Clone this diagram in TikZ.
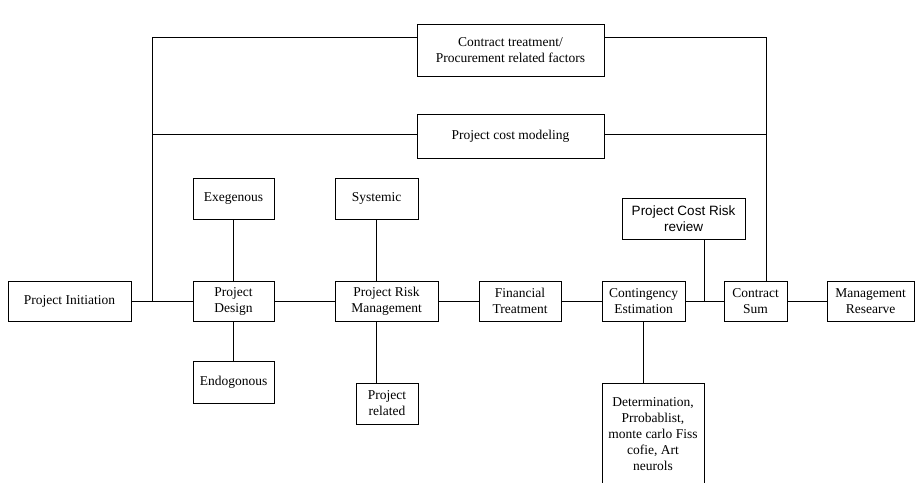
\documentclass[tikz,border=0pt]{standalone}
\usepackage{fontspec}
\setmainfont{Liberation Serif}
\newfontfamily\arialfont{Liberation Sans}
\usepackage{tikz}

\begin{document}
\begin{tikzpicture}[x=1pt,y=-1pt,line width=0.8pt,
	box/.style={draw,rectangle,inner sep=0,outer sep=0,align=center,font=\fontsize{13.5}{16}\selectfont}]
	\useasboundingbox (0,0) rectangle (920,482);
	% top boxes
	\node[box,minimum width=187,minimum height=52] (ctf) at (510.5,50) {Contract treatment/\\Procurement related factors};
	\node[box,minimum width=187,minimum height=44] (pcm) at (510.5,136) {Project cost modeling};
	% main row
	\node[box,minimum width=123,minimum height=40] (init) at (69.5,301) {Project Initiation};
	\node[box,minimum width=81,minimum height=40] (design) at (233.5,301) {Project\\Design};
	\node[box,minimum width=103,minimum height=40] (risk) at (386.5,301) {Project Risk\\Management};
	\node[box,minimum width=82,minimum height=40] (fin) at (520,301) {Financial\\Treatment};
	\node[box,minimum width=83,minimum height=40] (cont) at (643.5,301) {Contingency\\Estimation};
	\node[box,minimum width=63,minimum height=40] (sum) at (755.5,301) {Contract\\Sum};
	\node[box,minimum width=87,minimum height=40] (mgmt) at (870.5,301) {Management\\Researve};
	% side boxes
	\node[box,minimum width=81,minimum height=41] (exo) at (233.5,198.5) {Exegenous};
	\node[box,minimum width=81,minimum height=42] (endo) at (233.5,382) {Endogonous};
	\node[box,minimum width=83,minimum height=41] (sys) at (376.5,198.5) {Systemic};
	\node[box,minimum width=62,minimum height=41] (prel) at (387,403.5) {Project\\related};
	\node[box,minimum width=123,minimum height=41,font=\arialfont\fontsize{13.5}{16}\selectfont] (review) at (683.5,218.5) {Project Cost Risk\\review};
	\node[box,minimum width=102,minimum height=102] (det) at (653,434) {Determination,\\Prrobablist,\\monte carlo Fiss\\cofie, Art\\neurols};
	% junctions
	\coordinate (jl) at (152,301);
	\coordinate (jr) at (704,301);
	\coordinate (tl) at (152,37);
	\coordinate (tr) at (766,37);
	\coordinate (ml) at (152,134);
	\coordinate (mr) at (766,134);
	% connectors
	\draw (init) -- (design) -- (risk) -- (fin) -- (cont) -- (sum) -- (mgmt);
	\draw (exo) -- (design);
	\draw (design) -- (endo);
	\draw (sys.south) -- (sys.south |- risk.north);
	\draw (sys.south |- risk.south) -- (sys.south |- prel.north);
	\draw (cont.south -| det.north west) ++(41,0) coordinate (cd) -- (cd |- det.north);
	\draw (review.south -| jr) -- (jr);
	\draw (jl) -- (tl) -- (tl -| ctf.west);
	\draw (ctf.east |- tr) -- (tr) -- (tr |- sum.north);
	\draw (ml) -- (ml -| pcm.west);
	\draw (pcm.east |- mr) -- (mr);
\end{tikzpicture}
\end{document}
